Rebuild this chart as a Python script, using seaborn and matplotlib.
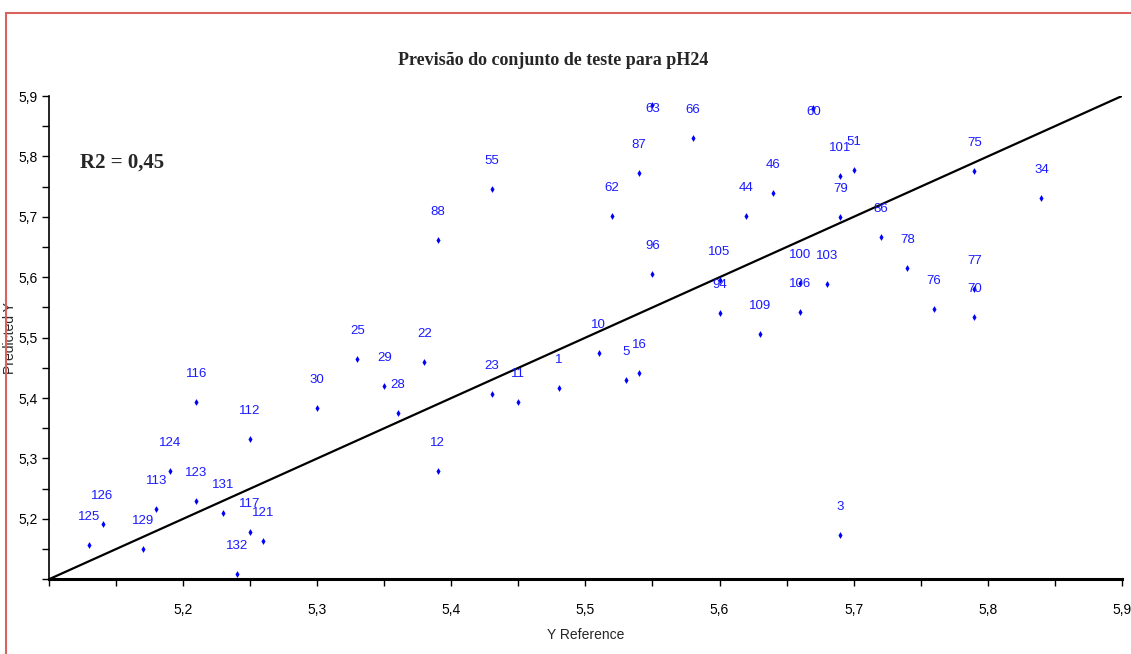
import matplotlib
matplotlib.use("Agg")
import matplotlib.pyplot as plt
import matplotlib.ticker as mticker
from matplotlib.patches import Rectangle
import seaborn as sns
import pandas as pd

# sample numbers and their reference / predicted pH24 values
sample_ids = [125, 126, 129, 113, 124, 116, 123, 131, 132, 117, 112, 121,
              30, 25, 29, 28, 22, 12, 88, 23, 55, 11, 1, 10, 5, 16,
              62, 87, 63, 96, 66, 105, 94, 44, 109, 46, 100, 106, 60, 103,
              101, 79, 3, 51, 86, 78, 76, 75, 77, 70, 34]
y_reference = [5.13, 5.14, 5.17, 5.18, 5.19, 5.21, 5.21, 5.23, 5.24, 5.25, 5.25, 5.26,
               5.30, 5.33, 5.35, 5.36, 5.38, 5.39, 5.39, 5.43, 5.43, 5.45, 5.48, 5.51, 5.53, 5.54,
               5.52, 5.54, 5.55, 5.55, 5.58, 5.60, 5.60, 5.62, 5.63, 5.64, 5.66, 5.66, 5.67, 5.68,
               5.69, 5.69, 5.69, 5.70, 5.72, 5.74, 5.76, 5.79, 5.79, 5.79, 5.84]
y_predicted = [5.157, 5.192, 5.150, 5.216, 5.280, 5.394, 5.229, 5.209, 5.109, 5.178, 5.332, 5.164,
               5.383, 5.465, 5.420, 5.376, 5.459, 5.280, 5.661, 5.407, 5.746, 5.394, 5.417, 5.475, 5.430, 5.441,
               5.702, 5.773, 5.885, 5.606, 5.831, 5.596, 5.541, 5.702, 5.506, 5.739, 5.591, 5.543, 5.880, 5.588,
               5.768, 5.699, 5.173, 5.778, 5.667, 5.616, 5.547, 5.776, 5.580, 5.534, 5.732]

axis_min, axis_max = 5.1, 5.9
r2_text = "R2 = 0,45"

df = pd.DataFrame({"id": sample_ids, "ref": y_reference, "pred": y_predicted})

sns.set_style("white")
narrow = ["Liberation Sans Narrow", "Liberation Sans", "DejaVu Sans"]
plt.rcParams["font.family"] = narrow

fig = plt.figure(figsize=(11.31, 6.54), dpi=100)
ax = fig.add_axes([0.0432, 0.1142, 0.9488, 0.7390])

# red frame of the original window
fig.patches.append(Rectangle((6 / 1131, -0.1), 1.2, 1.1 - 13 / 654, transform=fig.transFigure,
                             fill=False, edgecolor="#d9625e", linewidth=1.5, clip_on=False))

# target line
ax.plot([axis_min, axis_max], [axis_min, axis_max], color="black", linewidth=1.6, zorder=1)

sns.scatterplot(data=df, x="ref", y="pred", ax=ax, color="blue", marker="d",
                s=12, linewidth=0, zorder=3, legend=False)

for _, row in df.iterrows():
    # labels sit above the point, kept inside the plot area at the top
    if row["pred"] > 5.86:
        ax.annotate(str(int(row["id"])), (row["ref"], row["pred"]), xytext=(0, -4),
                    textcoords="offset pixels", ha="center", va="center",
                    color="#1a1aff", fontsize=9.5, zorder=4)
    else:
        ax.annotate(str(int(row["id"])), (row["ref"], row["pred"]), xytext=(0, 28),
                    textcoords="offset pixels", ha="center", va="center",
                    color="#1a1aff", fontsize=9.5, zorder=4)

ax.set_xlim(axis_min, axis_max)
ax.set_ylim(axis_min, axis_max)

comma = mticker.FuncFormatter(lambda v, p: f"{v:.1f}".replace(".", ","))
ax.xaxis.set_major_locator(mticker.FixedLocator([5.2, 5.3, 5.4, 5.5, 5.6, 5.7, 5.8, 5.9]))
ax.yaxis.set_major_locator(mticker.FixedLocator([5.2, 5.3, 5.4, 5.5, 5.6, 5.7, 5.8, 5.9]))
ax.xaxis.set_minor_locator(mticker.MultipleLocator(0.05))
ax.yaxis.set_minor_locator(mticker.MultipleLocator(0.05))
ax.xaxis.set_major_formatter(comma)
ax.yaxis.set_major_formatter(comma)
ax.tick_params(axis="both", which="both", direction="out", length=5, width=1,
               colors="black", labelsize=10, bottom=True, left=True)
ax.tick_params(axis="x", pad=12)
ax.tick_params(axis="y", pad=3)

for side in ["top", "right"]:
    ax.spines[side].set_visible(False)
ax.spines["bottom"].set_linewidth(2.2)
ax.spines["left"].set_linewidth(1.2)
ax.spines["bottom"].set_color("black")
ax.spines["left"].set_color("black")

ax.set_xlabel("Y Reference", fontsize=10, labelpad=8)
ax.set_ylabel("Predicted Y", fontsize=10)
ax.yaxis.set_label_coords(-0.03, 0.5)

fig.text(0.4895, 0.908, "Previsão do conjunto de teste para pH24", ha="center", va="center",
         fontsize=13, fontweight="bold", family=["Liberation Serif", "DejaVu Serif"])
ax.text(5.123, 5.789, r2_text, ha="left", va="center", fontsize=15, fontweight="bold",
        family=["Liberation Serif", "DejaVu Serif"])

fig.savefig("out.png", dpi=100)
